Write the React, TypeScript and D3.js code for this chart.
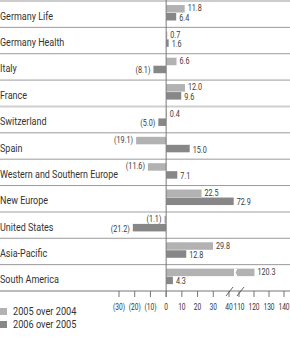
import * as d3 from "d3";

const categories = [
  "Germany Life",
  "Germany Health",
  "Italy",
  "France",
  "Switzerland",
  "Spain",
  "Western and Southern Europe",
  "New Europe",
  "United States",
  "Asia-Pacific",
  "South America",
];
const growth2005 = [11.8, 0.7, 6.6, 12.0, 0.4, -19.1, -11.6, 22.5, -1.1, 29.8, 120.3];
const growth2006 = [6.4, 1.6, -8.1, 9.6, -5.0, 15.0, 7.1, 72.9, -21.2, 12.8, 4.3];
const tickValues = [-30, -20, -10, 0, 10, 20, 30, 40, 110, 120, 130, 140];
const groupStarts = ["Switzerland", "United States"];
const seriesNames = ["2005 over 2004", "2006 over 2005"];

const W = 290;
const H = 337;
const FONT = "Roboto, sans-serif";
const LIGHT = "#b2b2b2";
const DARK = "#878787";
const LABEL_MAX = 118;

const fmt = (v: number) => (v < 0 ? `(${Math.abs(v).toFixed(1)})` : v.toFixed(1));

// condensed-looking text: squeeze horizontally
function T({ x, y, size, sx, anchor = "start", fill = "#333", fit, children }: any) {
  const fitRef = (el: SVGTextElement | null) => {
    if (!el || !fit) return;
    el.removeAttribute("textLength");
    const w = el.getComputedTextLength() * sx;
    if (w > fit) {
      el.setAttribute("textLength", String(fit / sx));
      el.setAttribute("lengthAdjust", "spacingAndGlyphs");
    }
  };
  return (
    <text
      ref={fitRef}
      transform={`translate(${x},${y}) scale(${sx},1)`}
      dy="0.35em"
      fontSize={size}
      textAnchor={anchor}
      fill={fill}
    >
      {children}
    </text>
  );
}

export default function App() {
  // broken axis: 40 -> 110 squeezed into a small gap
  const x = d3.scaleLinear().domain([-30, 40, 110, 140]).range([119, 229, 239, 284]);
  const y = d3.scaleBand().domain(categories).range([1, 291]).paddingInner(0);
  const x0 = x(0);
  const breakX = (x(40) + x(110)) / 2;
  const axisY = 291;

  const bars = (vals: number[], off: number, fill: string, labelShift: number) =>
    categories.map((c, i) => {
      const v = vals[i];
      const top = (y(c) as number) + off;
      const h = 7.5;
      const xe = x(v);
      const broken = v > 40;
      return (
        <g key={c + off}>
          <rect x={Math.min(x0, xe)} y={top} width={Math.abs(xe - x0)} height={h} fill={fill} />
          {broken && (
            <path
              d={`M${breakX},${top} L${breakX + 3.5},${top} L${breakX + 1.5},${top + h / 2} L${breakX + 3.5},${top + h} L${breakX},${top + h} Z`}
              fill="#fff"
            />
          )}
          <T
            x={v < 0 ? xe - 3 : xe + 3}
            y={top + h / 2 + labelShift}
            size={8.5}
            sx={0.85}
            anchor={v < 0 ? "end" : "start"}
            fill="#3a3a3a"
          >
            {fmt(v)}
          </T>
        </g>
      );
    });

  return (
    <svg
      width={W}
      height={H}
      style={{ position: "absolute", left: 0, top: 0, display: "block", fontFamily: FONT }}
    >
      <rect width={W} height={H} fill="#fff" />
      {/* row separators */}
      {categories.map((c) => {
        const thick = groupStarts.includes(c);
        const yy = y(c) as number;
        return (
          <line
            key={"l" + c}
            x1={0}
            x2={W}
            y1={yy}
            y2={yy}
            stroke={thick ? "#cfcfcf" : "#9a9a9a"}
            strokeWidth={thick ? 2 : 1}
          />
        );
      })}
      {categories.map((c) => (
        <T
          key={"t" + c}
          x={0}
          y={(y(c) as number) + y.bandwidth() / 2 + 2}
          size={10}
          sx={0.9}
          fit={LABEL_MAX}
        >
          {c}
        </T>
      ))}
      {bars(growth2005, 4, LIGHT, -0.5)}
      {bars(growth2006, 12, DARK, 1)}
      {/* zero line */}
      <line x1={x0} x2={x0} y1={0} y2={axisY + 6} stroke="#7a7a7a" strokeWidth={1} />
      {/* axis */}
      <line x1={0} x2={W} y1={axisY} y2={axisY} stroke="#777" strokeWidth={1} />
      {tickValues.map((t) => (
        <g key={"k" + t}>
          <line x1={x(t)} x2={x(t)} y1={axisY} y2={axisY + 6} stroke="#777" />
          <T x={x(t)} y={axisY + 16} size={8.5} sx={0.78} anchor="middle">
            {t < 0 ? `(${-t})` : t}
          </T>
        </g>
      ))}
      {[x(40), x(110)].map((bx, i) => (
        <line
          key={"b" + i}
          x1={bx - 3 + i * 1}
          y1={axisY + 5}
          x2={bx + 4 + i * 1}
          y2={axisY - 4}
          stroke="#555"
          strokeWidth={0.9}
        />
      ))}
      {/* legend */}
      {seriesNames.map((s, i) => (
        <g key={s}>
          <rect x={0} y={308 + i * 13} width={7} height={7} fill={i === 0 ? LIGHT : DARK} />
          <T x={13} y={311.5 + i * 13} size={10} sx={0.92}>
            {s}
          </T>
        </g>
      ))}
    </svg>
  );
}
